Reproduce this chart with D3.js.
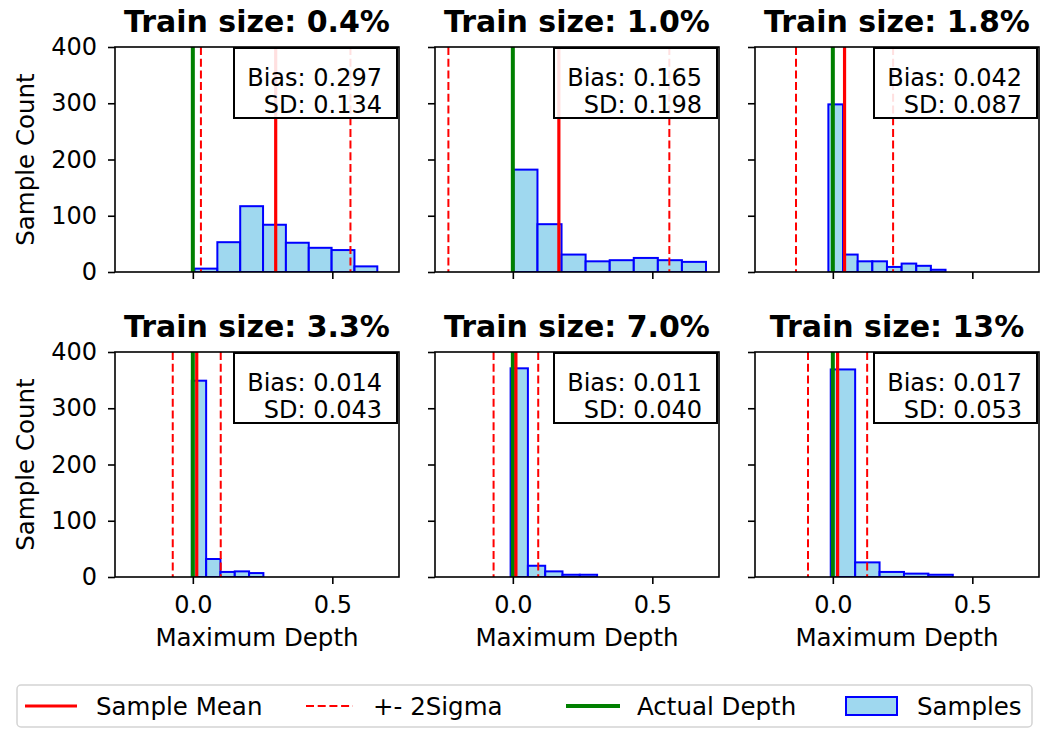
<!DOCTYPE html>
<html>
<head>
<meta charset="utf-8">
<script src="https://cdn.jsdelivr.net/npm/d3@7/dist/d3.min.js"></script>
<style>
  html, body { margin: 0; padding: 0; background: #fff; }
  svg { display: block; font-family: "DejaVu Sans", sans-serif; }
</style>
</head>
<body>
<svg id="chart" width="1047" height="729"></svg>
<script>
// Panel titles and summary statistics
const trainSizes = ["0.4%", "1.0%", "1.8%", "3.3%", "7.0%", "13%"];
const biases = [0.297, 0.165, 0.042, 0.014, 0.011, 0.017];
const sds = [0.134, 0.198, 0.087, 0.043, 0.040, 0.053];
const actualDepth = [0, 0, 0, 0, 0, 0];

// Histogram bins: left edge of first bin, bin width, counts per bin
const binStarts = [0.006, 0.002, -0.016, -0.0036, -0.008, -0.0075];
const binWidths = [0.0819, 0.0863, 0.0525, 0.0513, 0.062, 0.0875];
const counts = [
  [6, 53, 117, 84, 52, 43, 39, 10],
  [182, 85, 31, 19, 21, 25, 21, 18],
  [298, 31, 19, 19, 9, 15, 11, 4],
  [349, 32, 9, 10, 7],
  [371, 20, 10, 4, 4],
  [369, 26, 9, 6, 4]
];

// Axis settings
const xDomain = [-0.279, 0.739];
const yDomain = [0, 400];
const xTicks = [0, 0.5];
const yTicks = [0, 100, 200, 300, 400];

// Legend entries
const legendLabels = ["Sample Mean", "+- 2Sigma", "Actual Depth", "Samples"];

const svg = d3.select("#chart");
const W = 284, H = 225;
const lefts = [115, 435, 755];
const tops = [47, 352];

const FONT = 24;
const LABEL_FONT = 24.5;
const RED = "#ff0000", GREEN = "#008000", EDGE = "#0000ff", FILL = "skyblue";
const DASH = "8,3.7";

const x = d3.scaleLinear().domain(xDomain).range([0, W]);
const y = d3.scaleLinear().domain(yDomain).range([H, 0]);

trainSizes.forEach((ts, i) => {
  const row = Math.floor(i / 3), col = i % 3;
  const g = svg.append("g").attr("transform", `translate(${lefts[col]},${tops[row]})`);

  // clip to axes area
  const clipId = "clip" + i;
  g.append("clipPath").attr("id", clipId)
    .append("rect").attr("width", W).attr("height", H);
  const plot = g.append("g").attr("clip-path", `url(#${clipId})`);

  // histogram bars
  const bins = counts[i].map((c, k) => ({
    x0: binStarts[i] + k * binWidths[i],
    x1: binStarts[i] + (k + 1) * binWidths[i],
    c
  }));
  plot.selectAll("rect.bar").data(bins).enter().append("rect")
    .attr("class", "bar")
    .attr("x", d => x(d.x0))
    .attr("width", d => x(d.x1) - x(d.x0))
    .attr("y", d => y(d.c))
    .attr("height", d => y(0) - y(d.c))
    .attr("fill", FILL).attr("fill-opacity", 0.8)
    .attr("stroke", EDGE).attr("stroke-width", 2);

  const mean = actualDepth[i] + biases[i];
  // +- 2 sigma lines
  [mean - 2 * sds[i], mean + 2 * sds[i]].forEach(v => {
    plot.append("line")
      .attr("x1", x(v)).attr("x2", x(v)).attr("y1", 0).attr("y2", H)
      .attr("stroke", RED).attr("stroke-width", 2)
      .attr("stroke-dasharray", DASH);
  });
  // actual depth
  plot.append("line")
    .attr("x1", x(actualDepth[i])).attr("x2", x(actualDepth[i])).attr("y1", 0).attr("y2", H)
    .attr("stroke", GREEN).attr("stroke-width", 4);
  // sample mean
  plot.append("line")
    .attr("x1", x(mean)).attr("x2", x(mean)).attr("y1", 0).attr("y2", H)
    .attr("stroke", RED).attr("stroke-width", 3.2);

  // axes
  const yAxis = d3.axisLeft(y).tickValues(yTicks).tickSize(7).tickPadding(11)
    .tickFormat(col === 0 ? d3.format("d") : () => "");
  const xAxis = d3.axisBottom(x).tickValues(xTicks).tickSize(7).tickPadding(12)
    .tickFormat(row === 1 ? d3.format(".1f") : () => "");

  const ya = g.append("g").call(yAxis);
  const xa = g.append("g").attr("transform", `translate(0,${H})`).call(xAxis);
  [ya, xa].forEach(a => {
    a.select(".domain").remove();
    a.selectAll(".tick line").attr("stroke", "#000").attr("stroke-width", 1.6);
    a.selectAll(".tick text").attr("fill", "#000").style("font-size", FONT + "px")
      .style("font-family", "DejaVu Sans");
  });

  // frame
  g.append("rect").attr("width", W).attr("height", H)
    .attr("fill", "none").attr("stroke", "#000").attr("stroke-width", 1.6);

  // stats box
  const bx = 234 - lefts[0], by = 48 - tops[0];
  const box = g.append("g");
  box.append("rect")
    .attr("x", bx).attr("y", by).attr("width", W - 2 - bx).attr("height", 70)
    .attr("fill", "#fff").attr("fill-opacity", 0.88)
    .attr("stroke", "#000").attr("stroke-width", 2);
  const tx = W - 17;
  box.append("text").attr("x", tx).attr("y", by + 38)
    .attr("text-anchor", "end").style("font-size", FONT + "px")
    .text(`Bias: ${biases[i].toFixed(3)}`);
  box.append("text").attr("x", tx).attr("y", by + 65)
    .attr("text-anchor", "end").style("font-size", FONT + "px")
    .text(`SD: ${sds[i].toFixed(3)}`);

  // title
  g.append("text").attr("x", W / 2).attr("y", -15)
    .attr("text-anchor", "middle")
    .style("font-size", "30px").style("font-weight", "bold")
    .text(`Train size: ${ts}`);

  if (col === 0) {
    g.append("text")
      .attr("transform", `translate(${34 - lefts[0]},${H / 2}) rotate(-90)`)
      .attr("text-anchor", "middle")
      .style("font-size", LABEL_FONT + "px")
      .text("Sample Count");
  }
  if (row === 1) {
    g.append("text").attr("x", W / 2).attr("y", H + 69)
      .attr("text-anchor", "middle")
      .style("font-size", LABEL_FONT + "px")
      .text("Maximum Depth");
  }
});

// legend
const lg = svg.append("g");
lg.append("rect").attr("x", 17).attr("y", 685).attr("width", 1015).attr("height", 42)
  .attr("rx", 4).attr("fill", "#fff").attr("stroke", "#d4d4d4").attr("stroke-width", 1.5);
const handleX = [25, 306, 566, 846];
const textX = [96, 373, 637, 917];
const ly = 706;
legendLabels.forEach((lab, k) => {
  const hx = handleX[k];
  if (k === 0) {
    lg.append("line").attr("x1", hx).attr("x2", hx + 52).attr("y1", ly).attr("y2", ly)
      .attr("stroke", RED).attr("stroke-width", 3.2);
  } else if (k === 1) {
    lg.append("line").attr("x1", hx).attr("x2", hx + 47).attr("y1", ly).attr("y2", ly)
      .attr("stroke", RED).attr("stroke-width", 2).attr("stroke-dasharray", DASH);
  } else if (k === 2) {
    lg.append("line").attr("x1", hx).attr("x2", hx + 54).attr("y1", ly).attr("y2", ly)
      .attr("stroke", GREEN).attr("stroke-width", 4);
  } else {
    lg.append("rect").attr("x", hx).attr("y", 697).attr("width", 51).attr("height", 18)
      .attr("fill", FILL).attr("fill-opacity", 0.8)
      .attr("stroke", EDGE).attr("stroke-width", 2);
  }
  lg.append("text").attr("x", textX[k]).attr("y", 715)
    .style("font-size", LABEL_FONT + "px").text(lab);
});
</script>
</body>
</html>
